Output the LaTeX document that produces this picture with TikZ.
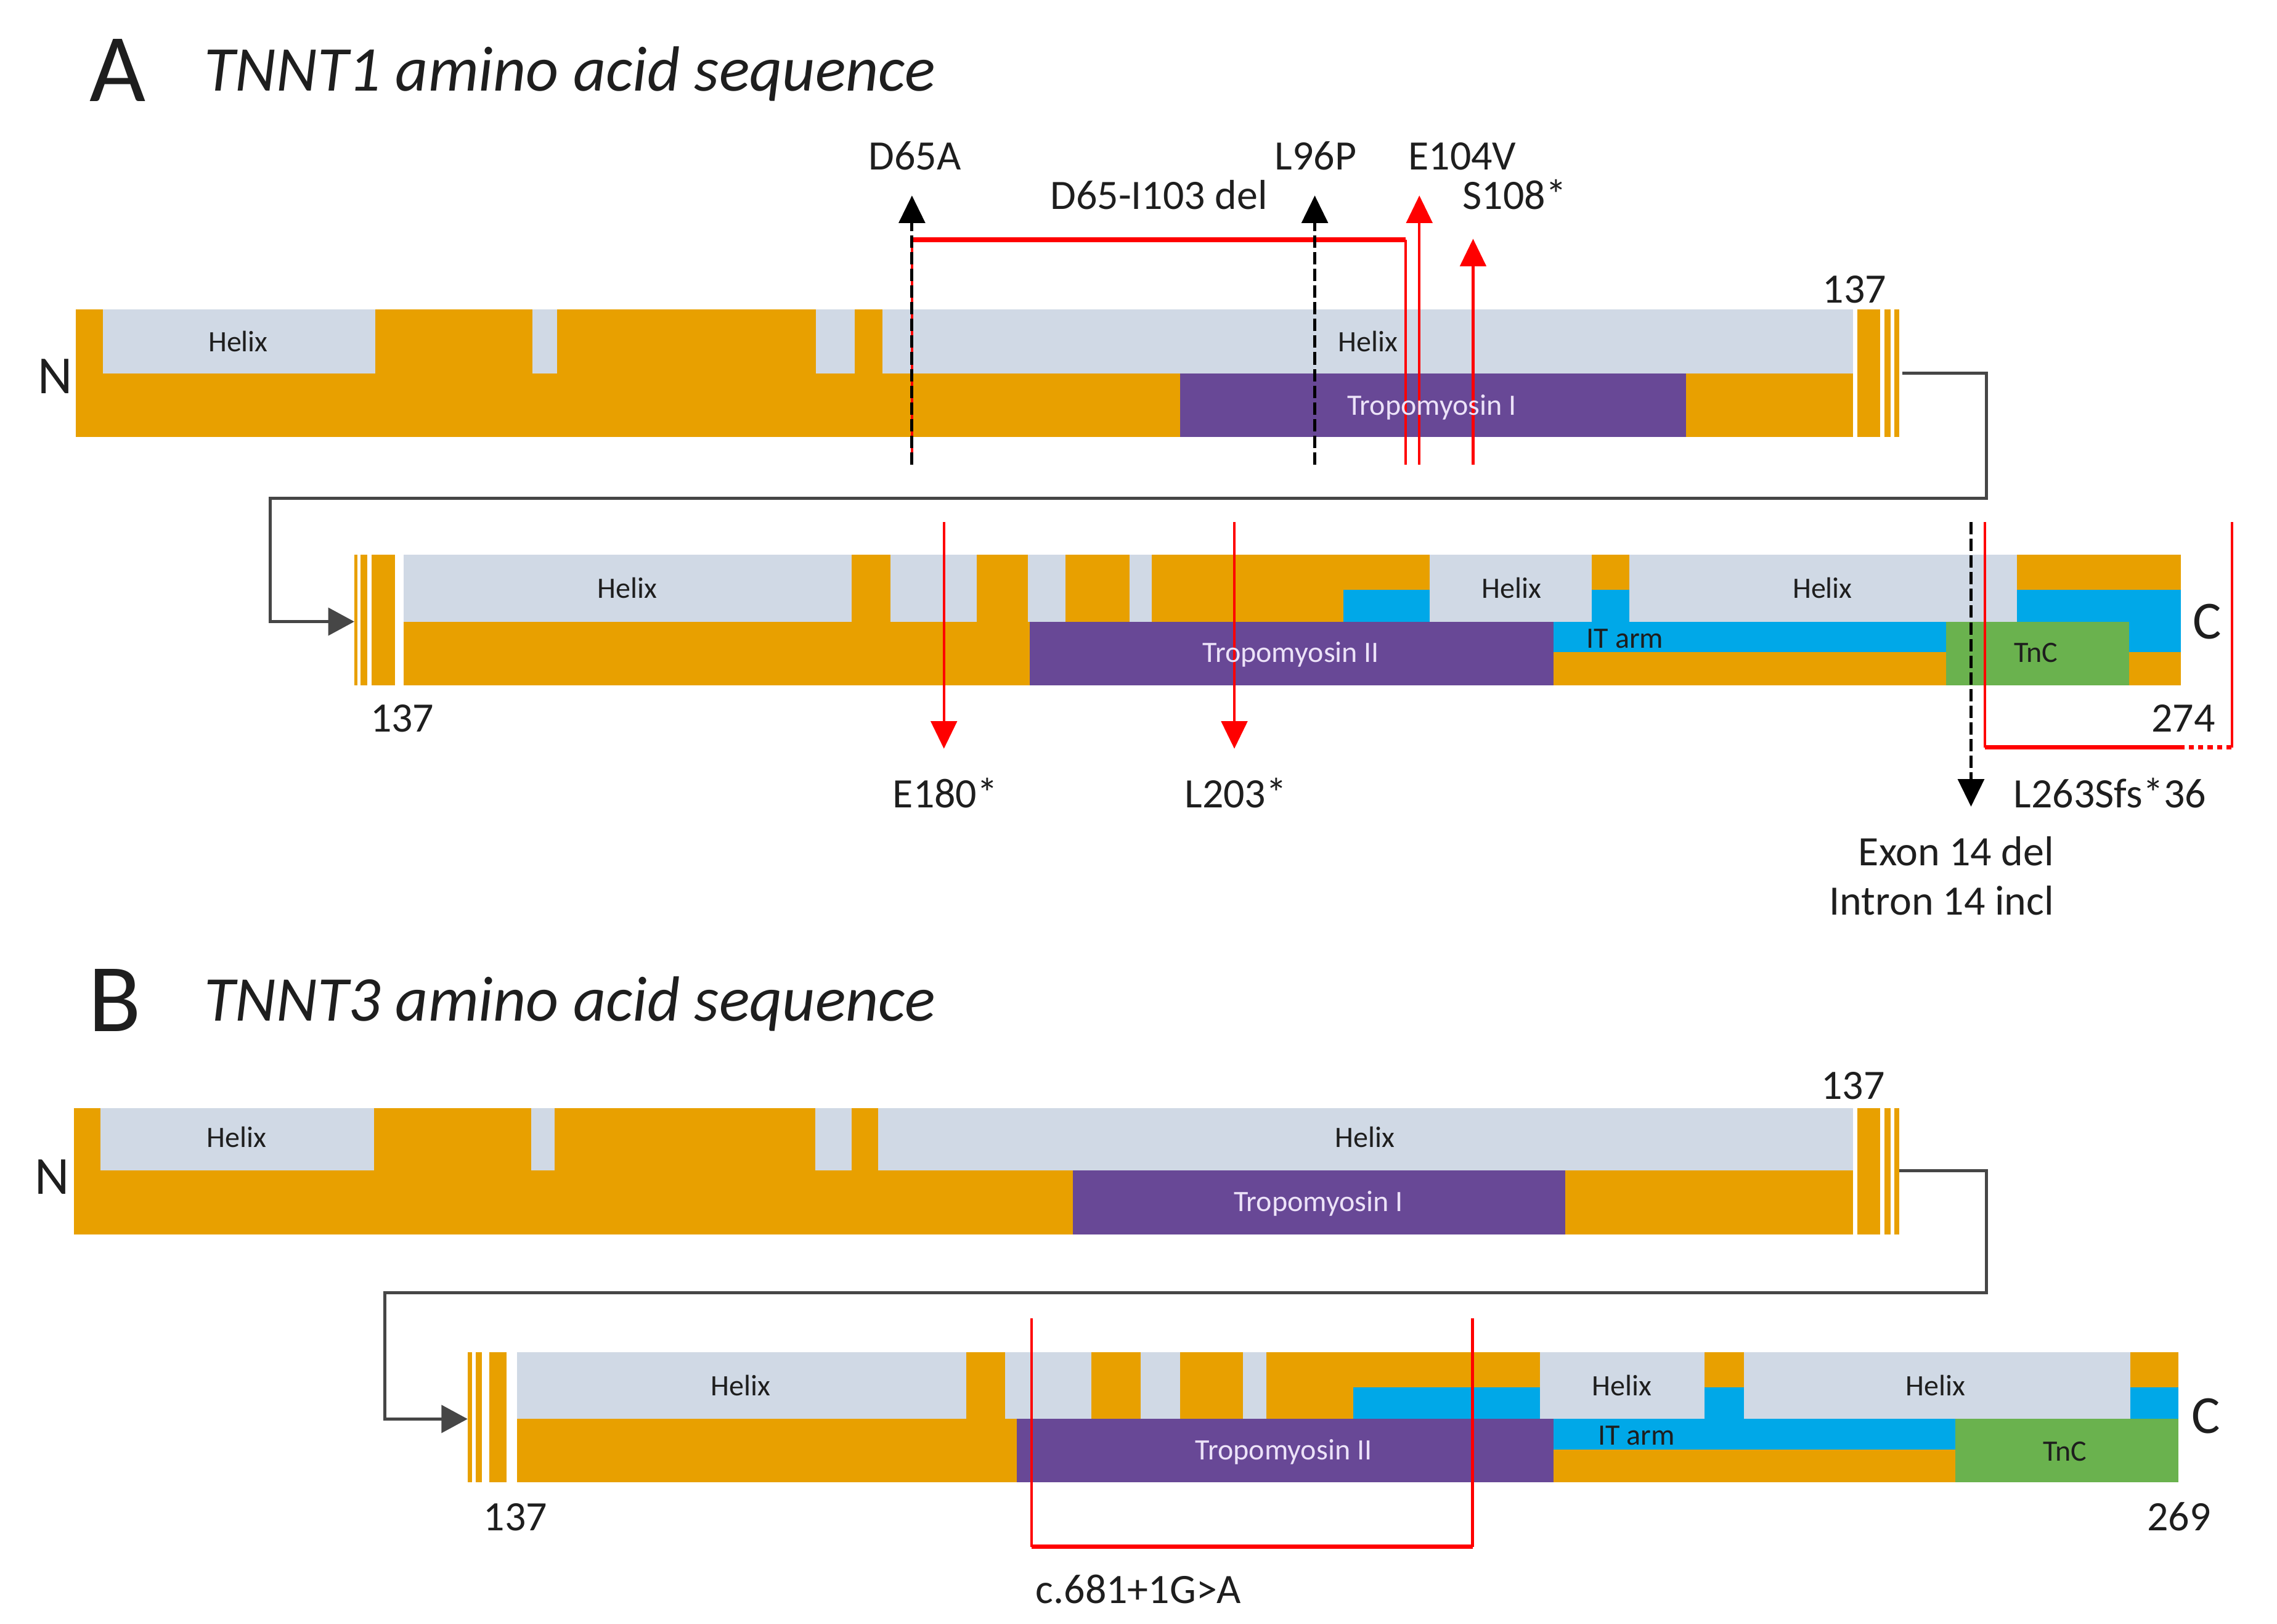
\documentclass[tikz,border=0pt]{standalone}
\usepackage{fontspec}
\setmainfont{Carlito}
\usetikzlibrary{arrows.meta}

\definecolor{barorange}{RGB}{232,160,0}
\definecolor{helixgray}{RGB}{208,217,229}
\definecolor{tmpurple}{RGB}{104,72,150}
\definecolor{itblue}{RGB}{0,168,232}
\definecolor{tncgreen}{RGB}{106,178,78}
\definecolor{mutred}{RGB}{255,0,0}
\definecolor{linkgray}{RGB}{70,70,70}
\definecolor{tmtext}{RGB}{236,226,248}
\definecolor{inktext}{RGB}{30,30,30}

\begin{document}
\begin{tikzpicture}[x=0.1mm, y=-0.1mm,
        barbase/.style={fill=barorange},
        helix/.style={fill=helixgray},
        tm/.style={fill=tmpurple},
        itarm/.style={fill=itblue},
        tnc/.style={fill=tncgreen},
        panel/.style={font=\fontsize{19}{22}\selectfont, anchor=base, inner sep=0pt, text=inktext},
        heading/.style={font=\itshape\fontsize{12.5}{15}\selectfont, anchor=base west, inner sep=0pt, text=inktext},
        domlabel/.style={font=\fontsize{5.8}{7}\selectfont, anchor=base, inner sep=0pt, text=inktext},
        tmlabel/.style={domlabel, text=tmtext},
        mut/.style={font=\fontsize{8.2}{9.6}\selectfont, anchor=base, inner sep=0pt, text=inktext},
        endlabel/.style={font=\fontsize{10.5}{12}\selectfont, anchor=base, inner sep=0pt, text=inktext},
        hit/.style={draw=mutred, line width=0.5pt, -{Triangle[length=1.9mm, width=1.8mm]}},
        hitdash/.style={draw=black, line width=0.6pt, dash pattern=on 0.85mm off 0.3mm, -{Triangle[length=1.9mm, width=1.8mm]}},
        bracket/.style={draw=mutred, line width=0.5pt},
        link/.style={draw=linkgray, line width=0.55pt, -{Triangle[length=1.8mm, width=1.9mm]}}
    ]
        \useasboundingbox (0,0) rectangle (1568,1118);

        % ---------------- panel A ----------------
        \node[panel] (lblA) at (81,70) {A};
        \node[heading] (titleA) at (140,62.5) {TNNT1 amino acid sequence};

        % row A1 bar
        \fill[barbase] (52,213) rectangle (1276,301);
        \fill[helix] (71,213) rectangle (258.5,257);
        \fill[helix] (366.5,213) rectangle (383.5,257);
        \fill[helix] (562,213) rectangle (588.5,257);
        \fill[helix] (607.5,213) rectangle (1276,257);
        \fill[tm] (812.8,257) rectangle (1161,301);
        \fill[barbase] (1279,213) rectangle (1294.5,301);
        \fill[barbase] (1297.6,213) rectangle (1302,301);
        \fill[barbase] (1304.5,213) rectangle (1308,301);

        % row A2 bar
        \fill[barbase] (244.2,382) rectangle (246,472);
        \fill[barbase] (248.3,382) rectangle (253,472);
        \fill[barbase] (256,382) rectangle (272,472);
        \fill[barbase] (278,382) rectangle (1501.6,472);
        \fill[helix] (278,382) rectangle (586.6,428);
        \fill[helix] (613.4,382) rectangle (672.7,428);
        \fill[helix] (707.8,382) rectangle (733.8,428);
        \fill[helix] (778,382) rectangle (793,428);
        \fill[helix] (984.4,382) rectangle (1096.2,428);
        \fill[helix] (1122,382) rectangle (1389,428);
        \fill[itarm] (925,406) rectangle (984.4,428);
        \fill[itarm] (1096.2,406) rectangle (1122,428);
        \fill[itarm] (1389,406) rectangle (1501.6,428);
        \fill[tm] (709,428) rectangle (1070,472);
        \fill[itarm] (1070,428) rectangle (1340,449);
        \fill[itarm] (1466,428) rectangle (1501.6,449);
        \fill[tnc] (1340,428) rectangle (1466,472);

        % ends and numbers A
        \node[endlabel] (a1n) at (38,271) {N};
        \node[endlabel] (a2c) at (1520,440) {C};
        \node[mut] (a1num) at (1277,208.5) {137};
        \node[mut] (a2num) at (277,504) {137};
        \node[mut] (a2end) at (1503.5,504) {274};

        % row link A
        \coordinate (a1out) at (1310,257);
        \coordinate (a2in) at (244,428);
        \draw[link] (a1out) -- (1368,257) -- (1368,343) -- (186,343) |- (a2in);

        % mutations above A1
        \coordinate (d65a-b) at (628,320);
        \coordinate (d65a-t) at (628,134.6);
        \coordinate (del-l) at (628,165);
        \coordinate (del-r) at (968,165);
        \coordinate (del-rb) at (968,320);
        \coordinate (l96p-b) at (905.4,320);
        \coordinate (l96p-t) at (905.4,134.6);
        \coordinate (e104v-b) at (977.4,320);
        \coordinate (e104v-t) at (977.4,134.6);
        \coordinate (s108-b) at (1014.4,320);
        \coordinate (s108-t) at (1014.4,164.4);

        \draw[bracket] (d65a-b) -- (del-l);
        \draw[bracket, line width=0.9pt] (del-l) -- (del-r);
        \draw[bracket] (del-r) -- (del-rb);
        \draw[hitdash] (d65a-b) -- (d65a-t);
        \draw[hitdash] (l96p-b) -- (l96p-t);
        \draw[hit] (e104v-b) -- (e104v-t);
        \draw[hit] (s108-b) -- (s108-t);

        \node[mut] (d65a) at (630,117) {D65A};
        \node[mut] (del) at (798,144) {D65-I103 del};
        \node[mut] (l96p) at (906,117) {L96P};
        \node[mut] (e104v) at (1007,117) {E104V};
        \node[mut] (s108) at (1043,144) {S108*};

        % mutations below A2
        \coordinate (e180-t) at (650,359.4);
        \coordinate (e180-b) at (650,515.5);
        \coordinate (l203-t) at (850,359.4);
        \coordinate (l203-b) at (850,515.5);
        \coordinate (fs-lt) at (1367,359.4);
        \coordinate (fs-lb) at (1367,514.6);
        \coordinate (fs-m) at (1500.7,514.6);
        \coordinate (fs-rb) at (1537,514.6);
        \coordinate (fs-rt) at (1537,359.4);
        \coordinate (ex14-t) at (1357.3,359.4);
        \coordinate (ex14-b) at (1357.3,555.4);

        \draw[hit] (e180-t) -- (e180-b);
        \draw[hit] (l203-t) -- (l203-b);
        \draw[bracket] (fs-lt) -- (fs-lb);
        \draw[bracket, line width=0.9pt] (fs-lb) -- (fs-m);
        \draw[bracket, line width=0.9pt, dash pattern=on 0.35mm off 0.3mm] (fs-m) -- (fs-rb);
        \draw[bracket] (fs-rb) -- (fs-rt);
        \draw[hitdash] (ex14-t) -- (ex14-b);

        \node[mut] (e180) at (651,556) {E180*};
        \node[mut] (l203) at (851,556) {L203*};
        \node[mut] (l263) at (1453,556) {L263Sfs*36};
        \node[mut, anchor=base east] (exon14) at (1415,596) {Exon 14 del};
        \node[mut, anchor=base east] (intron14) at (1415,630) {Intron 14 incl};

        % domain names A (on top of the mutation lines)
        \node[domlabel] (a1h1) at (164,242) {Helix};
        \node[domlabel] (a1h2) at (942,242) {Helix};
        \node[tmlabel] (a1tm) at (986,286) {Tropomyosin I};
        \node[domlabel] (a2h1) at (432,412) {Helix};
        \node[domlabel] (a2h2) at (1041,412) {Helix};
        \node[domlabel] (a2h3) at (1255,412) {Helix};
        \node[tmlabel] (a2tm) at (889,456) {Tropomyosin II};
        \node[domlabel] (a2it) at (1119,446) {IT arm};
        \node[domlabel] (a2tnc) at (1402,456) {TnC};

        % ---------------- panel B ----------------
        \node[panel] (lblB) at (79,710) {B};
        \node[heading] (titleB) at (140,703) {TNNT3 amino acid sequence};

        % row B1 bar
        \fill[barbase] (51,763) rectangle (1276,850);
        \fill[helix] (69.3,763) rectangle (257.6,806);
        \fill[helix] (365.8,763) rectangle (381.8,806);
        \fill[helix] (561.5,763) rectangle (586.6,806);
        \fill[helix] (604.8,763) rectangle (1276,806);
        \fill[tm] (738.6,806) rectangle (1078,850);
        \fill[barbase] (1279,763) rectangle (1294.5,850);
        \fill[barbase] (1297.6,763) rectangle (1302,850);
        \fill[barbase] (1304.5,763) rectangle (1308,850);

        % row B2 bar
        \fill[barbase] (322,931) rectangle (325,1020.6);
        \fill[barbase] (327.7,931) rectangle (332,1020.6);
        \fill[barbase] (337,931) rectangle (349,1020.6);
        \fill[barbase] (356,931) rectangle (1500,1020.6);
        \fill[helix] (356,931) rectangle (665.3,977);
        \fill[helix] (692.2,931) rectangle (751.5,977);
        \fill[helix] (785.3,931) rectangle (812.6,977);
        \fill[helix] (856,931) rectangle (872,977);
        \fill[helix] (1060.6,931) rectangle (1173.7,977);
        \fill[helix] (1200.9,931) rectangle (1467,977);
        \fill[itarm] (932,955) rectangle (1060.6,977);
        \fill[itarm] (1173.7,955) rectangle (1200.9,977);
        \fill[itarm] (1467,955) rectangle (1500,977);
        \fill[tm] (700,977) rectangle (1070,1020.6);
        \fill[itarm] (1070,977) rectangle (1346.3,998);
        \fill[tnc] (1346.3,977) rectangle (1500,1020.6);

        % domain names B
        \node[domlabel] (b1h1) at (163,790) {Helix};
        \node[domlabel] (b1h2) at (940,790) {Helix};
        \node[tmlabel] (b1tm) at (908,834) {Tropomyosin I};
        \node[domlabel] (b2h1) at (510,961) {Helix};
        \node[domlabel] (b2h2) at (1117,961) {Helix};
        \node[domlabel] (b2h3) at (1333,961) {Helix};
        \node[tmlabel] (b2tm) at (884,1005) {Tropomyosin II};
        \node[domlabel] (b2it) at (1127,995) {IT arm};
        \node[domlabel] (b2tnc) at (1422,1006) {TnC};

        % ends and numbers B
        \node[endlabel] (b1n) at (36,822) {N};
        \node[endlabel] (b2c) at (1519,987) {C};
        \node[mut] (b1num) at (1276,757) {137};
        \node[mut] (b2num) at (355,1054) {137};
        \node[mut] (b2end) at (1500.5,1054) {269};

        % row link B
        \coordinate (b1out) at (1308,806);
        \coordinate (b2in) at (322,977);
        \draw[link] (b1out) -- (1368,806) -- (1368,890) -- (265,890) |- (b2in);

        % splice mutation B2
        \coordinate (sp-lt) at (710.4,907.7);
        \coordinate (sp-lb) at (710.4,1065);
        \coordinate (sp-rb) at (1014,1065);
        \coordinate (sp-rt) at (1014,907.7);
        \draw[bracket] (sp-lt) -- (sp-lb);
        \draw[bracket, line width=0.9pt] (sp-lb) -- (sp-rb);
        \draw[bracket] (sp-rb) -- (sp-rt);

        \node[mut] (splice) at (784,1104) {c.681+1G>A};

    \end{tikzpicture}
\end{document}
